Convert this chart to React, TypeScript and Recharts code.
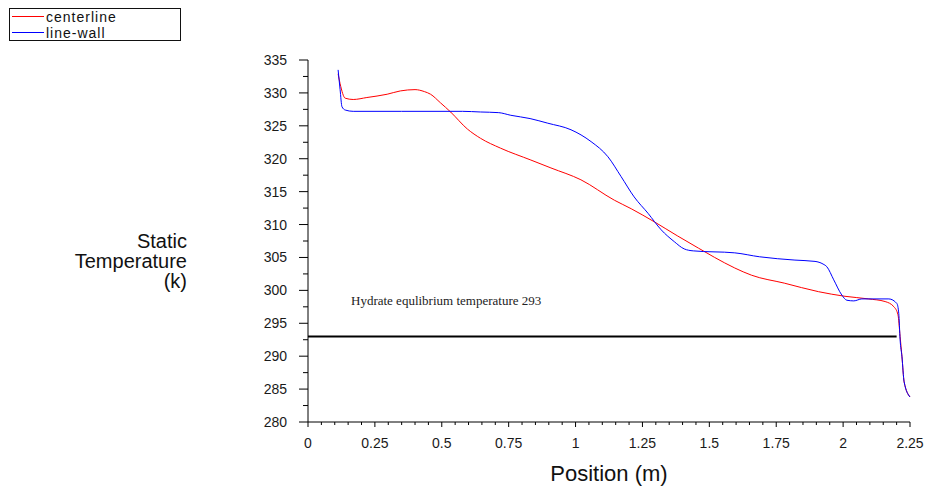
import React from 'react';
import { LineChart, Line, XAxis, YAxis, Legend, ReferenceLine, Label } from 'recharts';

// position (m) / static temperature (K) along the centerline
const centerX = [0.1125, 0.12, 0.139, 0.169, 0.22, 0.296, 0.345, 0.4, 0.435, 0.458, 0.495, 0.533, 0.596, 0.645, 0.72, 0.833, 0.908, 1.02, 1.145, 1.208, 1.295, 1.38, 1.46, 1.52, 1.595, 1.658, 1.78, 1.908, 2.007, 2.095, 2.157, 2.19, 2.205, 2.213, 2.22, 2.228, 2.25];
const centerT = [332.9, 331.4, 329.2, 329.0, 329.3, 329.8, 330.3, 330.5, 330.2, 329.8, 328.5, 327.1, 324.5, 323.1, 321.6, 319.8, 318.6, 316.8, 313.7, 312.4, 310.4, 308.3, 306.4, 305.0, 303.4, 302.3, 301.1, 299.8, 299.1, 298.7, 298.3, 297.5, 296.3, 293.0, 289.9, 286.1, 283.8];

// same along the wall
const wallX = [0.1125, 0.12, 0.127, 0.139, 0.169, 0.35, 0.578, 0.645, 0.713, 0.758, 0.83, 0.896, 0.983, 1.058, 1.121, 1.17, 1.219, 1.271, 1.32, 1.369, 1.406, 1.44, 1.595, 1.688, 1.82, 1.895, 1.925, 1.939, 1.965, 1.995, 2.014, 2.04, 2.07, 2.171, 2.201, 2.208, 2.213, 2.22, 2.228, 2.25];
const wallT = [333.5, 330.5, 327.9, 327.4, 327.2, 327.2, 327.2, 327.1, 327.0, 326.6, 326.1, 325.4, 324.4, 322.6, 320.3, 317.3, 314.2, 311.7, 309.2, 307.4, 306.3, 306.0, 305.7, 305.1, 304.6, 304.4, 304.0, 303.6, 301.6, 299.3, 298.5, 298.4, 298.7, 298.7, 298.0, 296.5, 292.5, 289.9, 286.1, 283.8];

const hydrateTemp = 293;
const hydrateEndX = 2.2;

const xMajor = [0, 0.25, 0.5, 0.75, 1, 1.25, 1.5, 1.75, 2, 2.25];
const yMajor = [280, 285, 290, 295, 300, 305, 310, 315, 320, 325, 330, 335];

// minor ticks: 5 per x interval, 2 per y interval
const xTicks = xMajor.flatMap((v, i) =>
  i === xMajor.length - 1 ? [v] : [0, 1, 2, 3, 4].map(k => +(v + k * 0.05).toFixed(2))
);
const yTicks = yMajor.flatMap((v, i) =>
  i === yMajor.length - 1 ? [v] : [v, v + 2.5]
);

const centerline = centerX.map((x, i) => ({ x, t: centerT[i] }));
const wall = wallX.map((x, i) => ({ x, t: wallT[i] }));

const RED = '#ff0000';
const BLUE = '#0000ff';
const seriesColor: Record<string, string> = { centerline: RED, 'line-wall': BLUE };

const font = 'Arial, "Liberation Sans", sans-serif';

const XTick = (props: any) => {
  const { x, y, payload } = props;
  const major = xMajor.some(v => Math.abs(v - payload.value) < 1e-6);
  return (
    <g>
      <line x1={x} y1={y} x2={x} y2={y + (major ? 5 : 3)} stroke="#000" />
      {major && (
        <text x={x} y={y + 26} textAnchor="middle" fontSize={14} fontFamily={font} fill="#1a1a1a">
          {payload.value}
        </text>
      )}
    </g>
  );
};

const YTick = (props: any) => {
  const { x, y, payload } = props;
  const major = payload.value % 5 === 0;
  return (
    <g>
      <line x1={x} y1={y} x2={x - (major ? 9 : 5)} y2={y} stroke="#000" />
      {major && (
        <text x={x - 21} y={y + 5} textAnchor="end" fontSize={14} fontFamily={font} fill="#1a1a1a">
          {payload.value}
        </text>
      )}
    </g>
  );
};

const LegendBox = ({ payload }: any) => (
  <div style={{ boxSizing: 'border-box', width: 172, height: 33, border: '1px solid #111', background: '#fff', fontFamily: font, fontSize: 14, lineHeight: '16px' }}>
    {payload.map((p: any) => (
      <div key={p.value} style={{ position: 'relative', height: 15.5, paddingLeft: 36, color: '#111', letterSpacing: 1 }}>
        <div style={{ position: 'absolute', left: 2, top: 7, width: 32, height: 0, borderTop: `1px solid ${seriesColor[p.value] ?? p.color}` }} />
        {p.value}
      </div>
    ))}
  </div>
);

export default function App() {
  return (
    <div style={{ position: 'absolute', left: 0, top: 0, width: 925, height: 489, background: '#fff' }}>
      <LineChart width={925} height={489} margin={{ top: 60, right: 15, bottom: 37, left: 248 }}>
        <XAxis
          dataKey="x"
          type="number"
          domain={[0, 2.25]}
          ticks={xTicks}
          interval={0}
          tickSize={0}
          tickMargin={0}
          height={30}
          tick={<XTick />}
          stroke="#000"
          allowDuplicatedCategory={false}
        >
          <Label
            content={({ viewBox }: any) => (
              <text x={viewBox.x + viewBox.width / 2} y={viewBox.y + 59} textAnchor="middle" fontSize={22} fontFamily={font} fill="#111">
                Position (m)
              </text>
            )}
          />
        </XAxis>
        <YAxis
          type="number"
          domain={[280, 335]}
          ticks={yTicks}
          interval={0}
          tickSize={0}
          tickMargin={0}
          width={60}
          tick={<YTick />}
          stroke="#000"
          allowDataOverflow
        >
          <Label
            content={({ viewBox }: any) => {
              const rx = viewBox.x - 61;
              const cy = viewBox.y + viewBox.height / 2;
              return (
                <text textAnchor="end" fontSize={20} fontFamily={font} fill="#111">
                  <tspan x={rx} y={cy + 7}>Static</tspan>
                  <tspan x={rx} y={cy + 27}>Temperature</tspan>
                  <tspan x={rx} y={cy + 47}>(k)</tspan>
                </text>
              );
            }}
          />
        </YAxis>
        <Legend
          layout="vertical"
          align="center"
          verticalAlign="middle"
          wrapperStyle={{ position: 'absolute', left: 9, top: 8, width: 172 }}
          content={<LegendBox />}
        />
        <ReferenceLine
          segment={[{ x: 0, y: hydrateTemp }, { x: hydrateEndX, y: hydrateTemp }]}
          stroke="#000"
          strokeWidth={2}
        >
          <Label
            content={({ viewBox }: any) => (
              <text x={viewBox.x + 43} y={viewBox.y - 31} fontSize={13} fontFamily='"Liberation Serif", "Times New Roman", serif' fill="#222">
                Hydrate equlibrium temperature {hydrateTemp}
              </text>
            )}
          />
        </ReferenceLine>
        <Line data={centerline} dataKey="t" name="centerline" type="monotone" stroke={RED} strokeWidth={1} dot={false} isAnimationActive={false} />
        <Line data={wall} dataKey="t" name="line-wall" type="monotone" stroke={BLUE} strokeWidth={1} dot={false} isAnimationActive={false} />
      </LineChart>
    </div>
  );
}
